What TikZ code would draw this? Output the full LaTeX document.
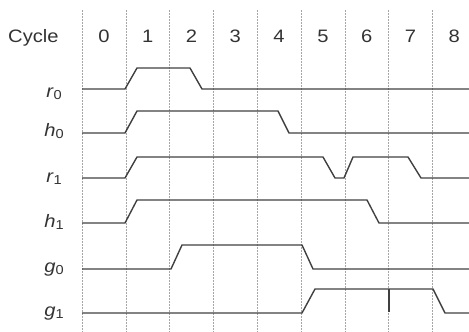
\documentclass[tikz,border=0pt]{standalone}
\usepackage{fontspec}
\setmainfont{Liberation Sans}[FakeStretch=1.12]
\usepackage{tikz}
\newcommand{\sig}[2]{\textit{#1}\raisebox{-0.3ex}{\fontsize{13}{15}\selectfont #2}}

\begin{document}
\begin{tikzpicture}[x=1pt,y=-1pt,
    gridline/.style={color=black!35, line width=0.5pt, dash pattern=on 1.5pt off 1.5pt},
    wave/.style={color=black!75, line width=1.4pt, line join=round},
    lbl/.style={font=\fontsize{18}{21}\selectfont, text=black!80, inner sep=0pt}]
        \useasboundingbox (0,0) rectangle (469,332);
        % cycle grid and header
        \foreach \k in {0,...,8} {
            \draw[gridline] (82+43.8*\k,10) -- (82+43.8*\k,332);
            \node[lbl, anchor=base] (cyc\k) at (103.9+43.8*\k,42) {\k};
        }
        \node[lbl, anchor=base west] (cycle) at (8,42) {Cycle};

        % signal names
        \node[lbl, anchor=base east] (r0) at (62,97) {\sig{r}{0}};
        \node[lbl, anchor=base east] (h0) at (64,136) {\sig{h}{0}};
        \node[lbl, anchor=base east] (r1) at (62,182) {\sig{r}{1}};
        \node[lbl, anchor=base east] (h1) at (64,227) {\sig{h}{1}};
        \node[lbl, anchor=base east] (g0) at (64,272) {\sig{g}{0}};
        \node[lbl, anchor=base east] (g1) at (64,316) {\sig{g}{1}};

        % waveforms
        \draw[wave] (82,89) -- (125,89) -- (137,68) -- (190,68) -- (202,89) -- (469,89);
        \draw[wave] (82,133) -- (125,133) -- (137,111) -- (278,111) -- (289,133) -- (469,133);
        \draw[wave] (82,178) -- (125,178) -- (137,157) -- (323,157) -- (335,178) -- (344,178) -- (353,157) -- (408,157) -- (421,178) -- (469,178);
        \draw[wave] (82,223) -- (125,223) -- (137,200) -- (367,200) -- (379,223) -- (469,223);
        \draw[wave] (82,269) -- (171,269) -- (182,245) -- (302,245) -- (313,269) -- (469,269);
        \draw[wave] (82,313) -- (302,313) -- (315,289) -- (433,289) -- (445,313) -- (469,313);
        \draw[wave] (389,289) -- (389,312);
    \end{tikzpicture}
\end{document}
